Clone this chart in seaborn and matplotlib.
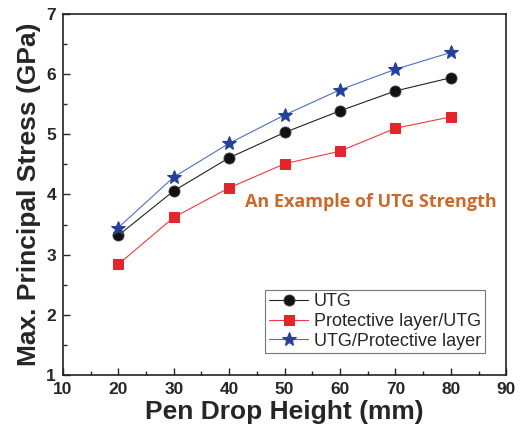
import numpy as np
import pandas as pd
import matplotlib
matplotlib.use("Agg")
import matplotlib.pyplot as plt
import seaborn as sns
from matplotlib.ticker import MultipleLocator

heights = [20, 30, 40, 50, 60, 70, 80]
utg = [3.32, 4.06, 4.61, 5.03, 5.39, 5.72, 5.94]
prot_utg = [2.84, 3.62, 4.11, 4.51, 4.72, 5.10, 5.29]
utg_prot = [3.45, 4.29, 4.85, 5.32, 5.74, 6.08, 6.36]

labels = ["UTG", "Protective layer/UTG", "UTG/Protective layer"]

sns.set_style("ticks")
plt.rcParams['font.family'] = ['Liberation Sans', 'DejaVu Sans']

fig = plt.figure(figsize=(5.29, 4.36), dpi=100)
ax = fig.add_axes([0.119, 0.140, 0.838, 0.828])

# black spheres
sns.lineplot(x=heights, y=utg, ax=ax, color='#222222', lw=0.8,
             marker='o', markersize=8, markerfacecolor='#111111',
             markeredgecolor='#444444', markeredgewidth=0.6, label=labels[0])
sns.lineplot(x=heights, y=prot_utg, ax=ax, color='#ee3a3f', lw=0.8,
             marker='s', markersize=7.5, markerfacecolor='#e3262c',
             markeredgecolor='#e3262c', label=labels[1])
sns.lineplot(x=heights, y=utg_prot, ax=ax, color='#4f6fc4', lw=0.8,
             marker='*', markersize=10.5, markerfacecolor='#24409a',
             markeredgecolor='#24409a', label=labels[2])

ax.set_xlim(10, 90)
ax.set_ylim(1, 7)
ax.xaxis.set_major_locator(MultipleLocator(10))
ax.xaxis.set_minor_locator(MultipleLocator(5))
ax.yaxis.set_major_locator(MultipleLocator(1))
ax.yaxis.set_minor_locator(MultipleLocator(0.5))
ax.tick_params(which='both', direction='in', top=False, right=False, width=1.0)
ax.tick_params(which='major', length=5, labelsize=12.5, pad=5)
ax.tick_params(which='minor', length=3)
for lab in ax.get_xticklabels() + ax.get_yticklabels():
    lab.set_fontweight('bold')
for sp in ax.spines.values():
    sp.set_linewidth(1.2)
    sp.set_color('#222222')

ax.set_xlabel('Pen Drop Height (mm)', fontsize=19, fontweight='bold', labelpad=2)
ax.set_ylabel('Max. Principal Stress (GPa)', fontsize=19, fontweight='bold', labelpad=4)

ax.text(42.8, 3.88, 'An Example of UTG Strength', color='#c9692c',
        fontsize=13, fontweight='bold', va='center', ha='left',
        family=['Open Sans', 'DejaVu Sans'])

leg = ax.legend(loc='lower right', fontsize=13, frameon=True, fancybox=False,
                edgecolor='#555555', borderpad=0.2, labelspacing=0.15,
                handlelength=2.2, handletextpad=0.3, borderaxespad=1.2)
leg.get_frame().set_linewidth(0.8)

fig.savefig('out.png', dpi=100)
